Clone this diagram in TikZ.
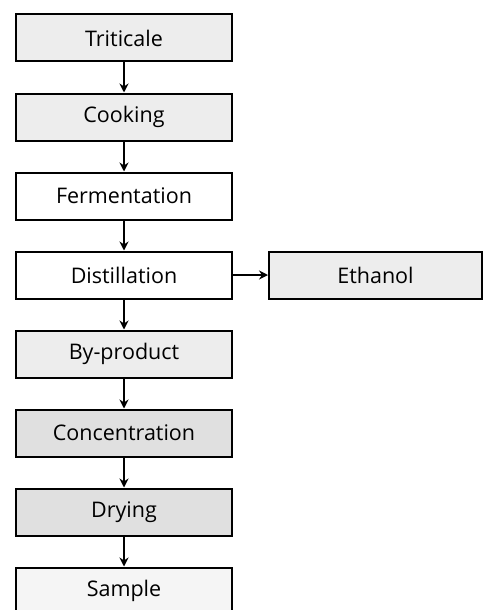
\documentclass[tikz,border=0pt]{standalone}
\usepackage{fontspec}
\setmainfont{Open Sans}
\usepackage{xcolor}
\usepackage{tikz}
\usetikzlibrary{arrows.meta}
\usetikzlibrary{calc, positioning}
\tikzstyle{stepbox}=[rectangle, draw, line width=2pt, minimum width=216pt, minimum height=47pt, inner sep=0pt]
\tikzstyle{lightbox}=[stepbox, fill=gray!14]
\tikzstyle{darkbox}=[stepbox, fill=gray!24]
\tikzstyle{flow}=[-{Stealth[length=9pt, width=9pt]}, line width=2.6pt]

\begin{document}
\begin{tikzpicture}[x=1pt, y=-1pt]
\clip (0,0) rectangle (484,610);

\tikzset{every node/.style={font=\fontsize{21.5pt}{24pt}\selectfont}}

% main column
\node[lightbox] (tri) at (124,38) {Triticale};
\node[lightbox, below=30pt of tri] (cook) {Cooking};
\node[stepbox, below=30pt of cook] (ferm) {Fermentation};
\node[stepbox, below=30pt of ferm] (dist) {Distillation};
\node[lightbox, below=30pt of dist] (byp) {By-product};
\node[darkbox, below=30pt of byp] (conc) {Concentration};
\node[darkbox, below=30pt of conc] (dry) {Drying};
\node[stepbox, fill=gray!8, below=30pt of dry] (samp) {Sample};

% side branch
\node[lightbox, minimum width=213pt, right=35pt of dist] (eth) {Ethanol};

\foreach \a/\b in {tri/cook, cook/ferm, ferm/dist, dist/byp, byp/conc, conc/dry, dry/samp}
    \draw[flow] (\a) -- (\b);
\draw[flow] (dist) -- (eth);

\end{tikzpicture}
\end{document}
